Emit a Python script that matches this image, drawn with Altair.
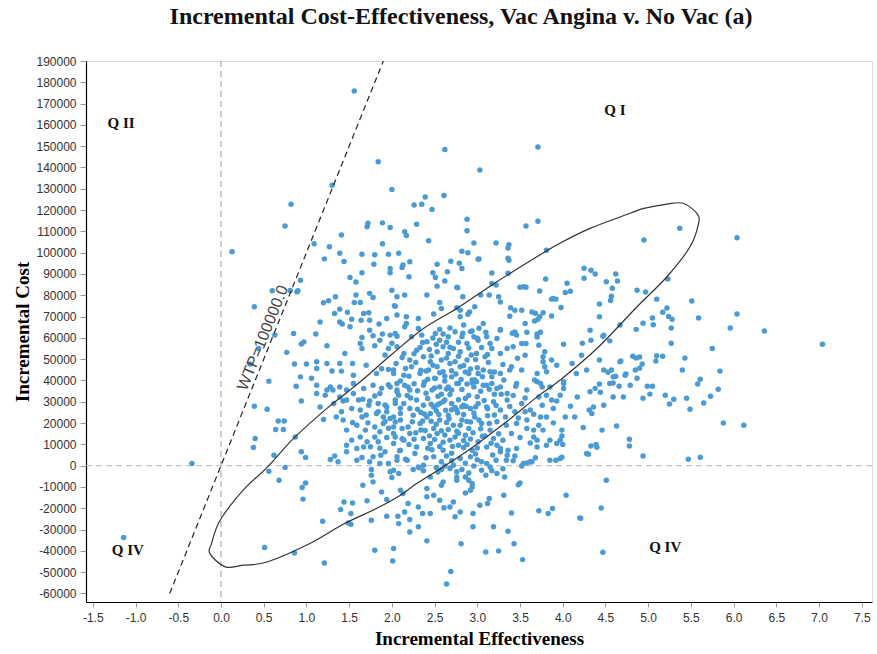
import altair as alt
import pandas as pd

# Bootstrap replicates: (incremental effectiveness, incremental cost)
reps_top = [
    (1.56, 175900), (2.62, 148500), (3.71, 149600), (1.84, 142700), (3.03, 138800),
    (1.30, 131700), (2.00, 129700), (0.82, 122800), (0.75, 112500), (0.13, 100400),
    (2.61, 126900), (2.39, 126200), (2.35, 122700), (2.26, 122400), (2.47, 120300),
    (2.29, 113400), (1.72, 113800), (1.71, 112200), (1.89, 114000), (1.98, 111800),
    (2.15, 109800), (2.17, 108100), (1.41, 108300), (1.09, 104200), (1.27, 102800),
    (1.89, 104200), (2.43, 105600), (2.88, 115700), (2.88, 110300), (3.57, 112500),
    (3.71, 114800), (2.96, 104500), (3.22, 104500), (3.37, 103700), (3.36, 102200),
    (3.81, 101200), (2.82, 100700), (2.89, 100000), (5.37, 111500), (6.04, 107000),
    (4.95, 106000), (1.39, 99700), (1.65, 99300), (1.80, 99000), (1.96, 99300),
    (2.08, 99700),
]

reps_high = [
    (1.21, 97100), (1.44, 95900), (1.79, 94600), (1.98, 92600), (1.98, 90600),
    (2.12, 93100), (2.21, 95700), (2.53, 94600), (2.13, 94200), (2.69, 96000),
    (2.79, 95000), (2.82, 92600), (3.01, 96900), (3.36, 97400), (3.37, 96500),
    (3.02, 97000), (1.65, 90600), (1.51, 88400), (1.58, 86200), (2.20, 88700),
    (2.48, 90600), (2.51, 88400), (2.53, 84300), (2.62, 86700), (2.65, 91000),
    (3.17, 90500), (3.36, 90300), (3.17, 85500), (3.22, 84800), (3.80, 87600),
    (4.25, 92700), (4.33, 91800), (4.38, 90000), (4.25, 88000), (4.51, 86400),
    (4.62, 90000), (4.64, 86700), (4.58, 83300), (4.57, 79600), (4.56, 77600),
    (4.43, 75900), (4.43, 69900), (4.67, 66000), (4.05, 85600), (4.03, 81300),
    (4.09, 81900), (3.54, 84000), (3.57, 83800), (3.73, 82000), (3.89, 78500),
    (3.87, 78200), (3.92, 78200), (3.98, 74300), (3.87, 70300), (0.93, 87100),
    (0.89, 81600), (0.60, 82100), (0.81, 82200), (0.90, 82100), (0.39, 74600),
    (1.20, 76500), (1.26, 77400), (1.34, 79300), (1.56, 76600), (1.63, 76600),
    (1.58, 80100), (1.74, 80900), (1.78, 79000), (2.00, 82400), (2.06, 79300),
    (2.03, 75100), (1.39, 73500), (1.33, 71500), (1.48, 72000), (1.67, 71500),
    (1.73, 71800), (1.16, 67500), (1.39, 67500), (1.42, 66500), (1.53, 68700),
    (1.64, 68300), (1.74, 68300), (1.85, 66500), (1.94, 69100), (1.51, 65200),
    (1.74, 63600), (1.65, 60200), (1.78, 61000), (1.89, 61800), (1.98, 61300),
    (2.06, 60800), (1.11, 61800), (0.85, 62100), (0.63, 61300), (2.15, 80100),
    (2.41, 80100), (2.77, 83500), (2.83, 79300), (3.04, 80100), (3.14, 80100),
    (3.25, 79300), (2.56, 76600), (2.58, 73800), (2.76, 74100), (2.91, 72200),
    (2.97, 74600), (3.27, 76900), (3.39, 74100), (3.44, 73000), (3.52, 73000),
    (3.64, 72200), (3.77, 71800), (2.49, 71200), (2.80, 69900), (2.04, 74900),
    (2.06, 70700), (2.17, 69900), (2.31, 69100), (3.07, 66800), (3.27, 64000),
    (3.44, 62800), (3.46, 61300), (3.67, 67900), (3.73, 69900), (3.56, 66800),
    (3.70, 61800), (3.68, 71600), (3.71, 68800), (3.58, 62700), (3.70, 60400),
    (3.74, 62700), (3.38, 70200), (3.27, 63600), (2.76, 83800), (2.94, 63200),
    (2.68, 64600), (2.83, 62200), (2.89, 71100), (2.80, 73000), (3.41, 62200),
    (3.50, 83800), (4.32, 63600), (4.48, 61300), (4.55, 58600), (4.47, 60800),
    (4.23, 57500), (4.33, 58900), (4.01, 57000), (4.87, 82400), (4.97, 81500),
    (5.23, 87600), (5.10, 78200), (5.51, 77300), (5.59, 69300), (5.22, 74000),
    (5.17, 72000), (5.24, 70100), (5.28, 68800), (5.27, 64600), (5.05, 69300),
    (5.06, 66200), (4.94, 66900), (4.86, 64000), (6.04, 71200), (5.96, 64600),
    (6.36, 63200), (5.75, 55000), (7.04, 57000), (5.27, 57500),
]

reps_mid = [
    (0.44, 55000), (0.34, 47700), (0.56, 39700), (0.77, 53200), (0.86, 47700),
    (0.88, 37300), (0.97, 58100), (0.94, 57100), (1.24, 56300), (1.45, 52700),
    (1.00, 47700), (1.12, 48800), (1.24, 48000), (1.39, 48000), (1.54, 48000),
    (1.70, 47200), (1.12, 45600), (1.30, 44500), (1.41, 44400), (1.55, 42500),
    (0.93, 41700), (1.06, 41000), (1.82, 43300), (2.02, 43300), (1.80, 56300),
    (1.96, 55000), (1.63, 57400), (1.65, 55000), (1.86, 58900), (4.48, 44900),
    (4.57, 44900), (4.67, 48800), (4.73, 42500), (4.59, 41700), (4.43, 49600),
    (4.22, 51900), (4.11, 48000), (3.87, 49600), (3.93, 47200), (3.79, 53500),
    (3.77, 51100), (3.77, 48800), (3.79, 46400), (3.81, 44100), (3.70, 43300),
    (3.67, 40200), (4.01, 39400), (4.16, 43300), (4.28, 44900), (3.40, 46400),
    (3.47, 50400), (3.56, 51900), (3.52, 44900), (3.15, 44100), (3.27, 43300),
    (3.01, 43300), (2.94, 40200), (3.17, 38600), (2.78, 38600), (3.57, 57400),
    (3.72, 56600), (4.68, 49100), (4.82, 51400), (4.86, 50500), (4.90, 51000),
    (4.93, 47700), (4.90, 45800), (4.85, 44900), (4.53, 43900), (4.62, 42000),
    (4.74, 43000), (4.87, 41100), (4.79, 37800), (4.66, 37300), (4.59, 38800),
    (4.99, 37300), (5.05, 37300), (5.02, 33600), (4.94, 31700), (4.59, 32200),
    (4.48, 28400), (4.44, 34500), (4.63, 18600), (4.46, 16700), (4.78, 12400),
    (4.78, 9200), (4.94, 4500), (5.17, 51400), (5.09, 49100), (5.10, 51600),
    (5.43, 50500), (5.40, 44900), (5.84, 44400), (5.82, 35900), (5.73, 32600),
    (5.65, 29400), (5.61, 40600), (5.58, 38300), (5.49, 26500), (5.45, 31700),
    (5.88, 20000), (5.47, 3000), (5.61, 4000), (5.30, 31200), (5.25, 29000),
    (5.20, 33100), (6.12, 19000),
]

# Dense centre of the cloud
reps_core = [
    (2.15, 65200), (2.17, 66800), (2.04, 62100), (2.23, 60500), (2.31, 64400),
    (2.35, 61300), (2.41, 58200), (2.51, 62100), (2.56, 58900), (2.60, 55800),
    (2.66, 60500), (2.74, 62900), (2.82, 60500), (2.88, 57400), (2.96, 60500),
    (3.01, 58900), (3.11, 60500), (3.15, 57400), (3.23, 59700), (2.06, 55800),
    (2.14, 52700), (2.21, 49600), (2.29, 54200), (2.37, 51100), (2.45, 48800),
    (2.53, 53500), (2.58, 49600), (2.66, 52700), (2.74, 48800), (2.80, 53500),
    (2.88, 49600), (2.99, 52700), (3.09, 51100), (3.17, 55000), (3.27, 52700),
    (3.35, 55000), (3.42, 55800), (3.52, 57400), (2.02, 44900), (2.14, 42500),
    (2.23, 46400), (2.33, 43300), (2.43, 44900), (2.51, 40900), (2.60, 44100),
    (2.70, 41700), (2.80, 46400), (2.90, 43300), (2.97, 40200), (3.07, 44900),
    (3.17, 41700), (3.31, 40200), (3.38, 44900), (3.46, 38600), (2.06, 38600),
    (2.19, 37000), (2.37, 37800), (2.56, 37000), (2.76, 38600), (2.96, 37000),
    (3.11, 37800), (3.23, 36200), (2.06, 34700), (2.15, 37800), (2.21, 35500),
    (2.47, 35500), (2.66, 37000), (2.88, 38300), (2.99, 39400), (3.07, 37800),
    (3.27, 37000), (3.35, 33900), (3.45, 37300), (3.58, 35500), (3.70, 39400),
    (3.76, 37000), (3.81, 33100), (3.87, 30800), (3.97, 33100), (4.01, 36200),
    (2.04, 30800), (2.14, 29200), (2.21, 26900), (2.29, 30800), (2.37, 28400),
    (2.49, 27600), (2.56, 29200), (2.62, 30800), (2.70, 29200), (2.76, 26100),
    (2.84, 28400), (2.92, 26900), (3.01, 29200), (3.11, 27600), (3.19, 30000),
    (3.27, 26100), (3.35, 30800), (3.44, 25300), (3.52, 29200), (3.62, 26100),
    (2.02, 22900), (2.10, 21400), (2.19, 18200), (2.25, 23700), (2.33, 19800),
    (2.41, 22900), (2.49, 17500), (2.56, 21400), (2.66, 23700), (2.72, 19000),
    (2.82, 21400), (2.90, 17500), (2.97, 22900), (3.05, 19800), (3.15, 16700),
    (3.23, 20600), (3.33, 22900), (3.40, 15100), (3.46, 19800), (3.58, 17500),
    (3.66, 13500), (3.74, 22900), (2.04, 13500), (2.14, 12000), (2.21, 15100),
    (2.29, 8800), (2.37, 12800), (2.45, 10400), (2.53, 15100), (2.60, 7300),
    (2.68, 12000), (2.78, 9600), (2.86, 14300), (2.94, 7300), (3.01, 11200),
    (3.11, 8800), (3.19, 12800), (3.27, 8100), (3.35, 4900), (2.06, 4200),
    (2.18, 2600), (2.27, 5700), (2.37, 200), (2.49, 4200), (2.58, 1800),
    (2.72, 200), (2.80, 3400), (2.92, 4200), (3.11, 1000), (3.54, 1000),
    (3.62, 1800), (2.10, 27000), (2.18, 33000), (2.26, 38500), (2.34, 25000),
    (2.42, 31500), (2.50, 41000), (2.58, 33500), (2.63, 26000), (2.70, 35500),
    (2.78, 31000), (2.84, 24000), (2.90, 33000), (2.98, 27500), (3.04, 35000),
    (3.12, 23500), (3.20, 33500), (2.12, 17500), (2.20, 10000), (2.28, 15500),
    (2.36, 21000), (2.44, 14000), (2.52, 19500), (2.60, 11000), (2.66, 17000),
    (2.74, 13500), (2.80, 19000), (2.88, 10000), (2.95, 15500), (3.02, 21500),
    (3.09, 14000), (3.16, 10500), (3.25, 15000), (2.40, 44500), (2.46, 51500),
    (2.53, 46500), (2.62, 42000), (2.68, 48000), (2.72, 55000), (2.86, 44000),
    (2.93, 52000), (3.00, 46000), (3.05, 55500), (3.13, 48500), (3.20, 44000),
    (3.30, 47500), (2.20, 42000), (2.28, 48500), (2.33, 55500), (2.48, 60000),
    (2.56, 64000), (2.64, 58000), (2.84, 66000), (2.92, 63000), (3.02, 64500),
    (1.92, 28500), (1.96, 38000), (1.88, 45500), (1.92, 52000), (2.00, 57500),
    (2.05, 48000), (2.09, 7000), (2.16, 3000), (2.32, -1000), (2.47, 7500),
    (2.54, -3000), (2.64, 4500), (2.84, 8500), (2.98, 5500), (3.10, -4500),
    (3.18, 5000), (2.45, 24500), (2.55, 24000), (2.67, 22000), (2.77, 24800),
    (2.87, 27800), (2.40, 34000), (2.50, 36500), (2.60, 30000), (2.64, 36000),
    (2.75, 43000), (2.81, 40500), (2.53, 28500), (2.39, 16500), (2.71, 9000),
    (2.92, 20500),
]

reps_core_b = [
    (2.22, 31800), (2.30, 35200), (2.38, 39300), (2.46, 28900), (2.54, 32600),
    (2.62, 39800), (2.68, 33400), (2.74, 27300), (2.82, 35800), (2.86, 31500),
    (2.94, 38800), (3.00, 32400), (3.08, 30600), (3.14, 35900), (2.24, 20600),
    (2.30, 26500), (2.38, 24300), (2.46, 20900), (2.52, 25800), (2.58, 16400),
    (2.64, 20300), (2.70, 26300), (2.76, 16200), (2.82, 27700), (2.88, 20800),
    (2.96, 24700), (3.04, 17300), (3.12, 26700), (3.20, 23800), (2.26, 12400),
    (2.34, 16800), (2.42, 8200), (2.50, 12300), (2.56, 9000), (2.62, 14400),
    (2.70, 5800), (2.78, 15200), (2.84, 11800), (2.92, 12500), (3.00, 8300),
    (3.06, 13800), (3.14, 19800), (2.34, 44800), (2.42, 40600), (2.48, 47200),
    (2.56, 43600), (2.64, 50500), (2.70, 44600), (2.78, 51400), (2.84, 47000),
    (2.92, 45400), (2.98, 49800), (3.06, 41800), (3.12, 52200), (2.10, 39800),
    (2.16, 45600), (2.12, 50800), (2.26, 52600), (2.36, 57800), (2.44, 54600),
    (2.52, 57000), (2.60, 61800), (2.68, 55600), (2.78, 57900), (2.90, 55200),
    (3.00, 59800), (3.10, 62700), (1.96, 45200), (1.88, 36400), (1.80, 32700),
    (1.70, 23800), (1.92, 20800), (1.86, 8200), (1.96, 17600), (2.04, 20500),
    (2.12, 12600), (3.22, 28300), (3.28, 33500), (3.34, 19000), (3.30, 11900),
    (3.38, 27800), (3.42, 33000), (3.48, 22400), (3.50, 13200), (3.56, 31800),
    (3.62, 10600), (3.66, 24200), (3.68, 3700), (3.44, 4600), (3.30, -1400),
    (2.40, 3700), (2.52, -800), (2.70, 2400), (2.86, 1200), (3.00, 2800),
]

reps_low = [
    (0.39, 27900), (0.54, 26500), (0.40, 12800), (0.38, 8500), (0.67, 21000),
    (0.74, 21000), (0.64, 17000), (0.73, 17000), (0.94, 30400), (0.87, 13500),
    (0.62, 4900), (0.94, 6500), (0.99, 3800), (-0.34, 1000), (1.28, 2900),
    (1.33, 4500), (1.37, 1800), (1.65, 3800), (1.74, 1800), (1.87, 4900),
    (1.92, 6500), (1.96, 1000), (1.67, 8800), (1.59, 8100), (1.53, 12000),
    (1.71, 11200), (1.80, 13500), (1.86, 15900), (1.94, 13200), (2.02, 15100),
    (1.54, 20300), (1.43, 21400), (1.65, 22900), (1.72, 20100), (1.82, 24500),
    (1.90, 22900), (1.98, 22200), (1.84, 29200), (1.94, 25300), (2.06, 35500),
    (1.61, 30800), (1.66, 31200), (1.74, 30400), (1.39, 32300), (1.43, 30400),
    (1.55, 38600), (1.31, 35500), (1.22, 33100), (1.12, 33900), (1.20, 21700),
    (1.28, 37000), (1.47, 35500), (1.12, 37800), (1.24, 35500), (1.39, 37000),
    (1.47, 30800), (1.55, 33900), (1.67, 36200), (1.78, 37800), (1.86, 33900),
    (1.98, 37000), (2.08, 33100), (1.16, 27600), (1.32, 29200), (1.41, 25300),
    (1.53, 26900), (1.63, 26100), (1.73, 28400), (1.84, 25300), (1.94, 27600),
    (2.04, 29200), (1.35, 22900), (1.47, 16700), (1.59, 19000), (1.69, 16700),
    (1.80, 18200), (1.90, 19800), (2.02, 18200), (2.10, 24500), (1.47, 9600),
    (1.63, 13500), (1.75, 8900), (1.84, 11200), (2.02, 10400), (2.10, 7300),
    (1.47, 6500), (1.59, 2600), (1.78, 4200), (1.86, 1000), (2.06, 2600),
    (3.05, 1800), (3.22, 2600), (3.34, 2600), (3.42, 2300), (3.58, 1300),
    (3.64, 1800), (3.92, 2600), (3.97, 3400), (3.70, 8800), (3.81, 9600),
    (3.85, 12000), (3.93, 10400), (3.97, 12000), (3.99, 13900), (3.46, 8100),
    (3.36, 7300), (3.27, 6500), (3.23, 9600), (4.28, 5700), (4.24, 17900),
    (4.14, 22900), (4.31, 26100), (4.34, 24500), (4.36, 27600), (4.71, 32300),
    (4.32, 34700), (4.38, 36300), (4.43, 38300), (4.55, 38600), (4.17, 32300),
    (4.09, 27900), (4.03, 22900), (3.89, 26900), (3.81, 22900), (3.89, 20100),
    (3.99, 16700), (3.85, 2600), (3.70, 12000), (3.77, 16700), (3.72, 19000),
    (3.66, 16700), (3.58, 21400), (3.56, 25300), (3.76, 28400), (3.72, 32300),
    (3.93, 30400), (3.85, 37000), (4.01, 38600), (3.74, 38600), (4.30, 5400),
    (4.33, 9200), (4.39, 10000), (4.40, 8600), (3.99, 4000), (4.00, 10000),
]

reps_neg = [
    (0.56, -2600), (0.68, -6800), (0.75, -800), (0.95, -10200), (0.99, -8100),
    (0.96, -15700), (0.51, -38400), (0.86, -41000), (1.21, -45700), (1.19, -26100),
    (1.44, -17000), (1.54, -17500), (1.40, -20600), (1.52, -22500), (1.49, -26900),
    (1.52, -27500), (1.76, -25600), (1.80, -39700), (2.01, -44700), (2.02, -38900),
    (1.94, -23700), (2.07, -23700), (1.71, -16500), (1.66, -9200), (1.78, -7600),
    (1.88, -12300), (1.94, -15900), (1.76, -1800), (1.76, -4500), (1.98, -2900),
    (2.00, -5500), (2.64, -55500), (2.69, -49700), (2.41, -35300), (2.81, -36600),
    (3.10, -40500), (3.25, -40000), (3.53, -44100), (3.43, -36600), (3.36, -30800),
    (3.19, -28700), (2.95, -28700), (4.20, -24500), (3.72, -21200), (3.83, -22500),
    (3.88, -20100), (3.40, -22200), (3.50, -8100), (3.48, -9000), (3.31, -13900),
    (3.14, -15400), (3.12, -17800), (3.03, -18600), (2.95, -22500), (2.80, -21700),
    (2.74, -24000), (2.68, -19400), (2.61, -19800), (2.72, -17000), (2.56, -16200),
    (2.49, -13900), (2.41, -14600), (2.41, -10700), (2.45, -22500), (2.36, -22500),
    (2.31, -19400), (2.19, -17800), (2.15, -21700), (2.21, -25300), (2.08, -27200),
    (2.21, -31100), (2.31, -28700), (2.10, -11500), (2.13, -13100), (2.58, -9200),
    (2.60, -7600), (2.76, -6800), (2.76, -5300), (2.86, -5300), (2.90, -6800),
    (2.94, -10000), (2.92, -11500), (2.86, -12800), (2.94, -8400), (2.76, -2900),
    (2.82, -1800), (2.90, -3400), (2.68, -1300), (2.62, -200), (2.58, -1800),
    (2.45, -5300), (2.37, -2400), (2.31, -600), (2.25, -1800), (2.08, -3700),
    (2.02, -2100), (3.05, -2100), (3.17, -2400), (3.23, -3700), (3.32, -5300),
    (3.15, -600), (2.96, -200), (3.52, -200), (4.04, -13900), (4.45, -19900),
    (4.21, -24700), (4.47, -40600), (4.51, -6800), (-1.14, -33700),
]

# 95% confidence ellipse outline, traced in order
ellipse_eff = [
    -0.13, 0.05, 0.26, 0.54, 1.04, 1.43, 1.82, 2.10, 2.29, 2.60, 2.95, 3.34,
    3.70, 3.97, 4.40, 4.87, 5.22, 5.49, 5.59, 5.57, 5.41, 5.22, 4.95, 4.79,
    4.32, 3.93, 3.54, 3.15, 2.76, 2.37, 2.00, 1.63, 1.24, 0.85, 0.54, 0.26,
    -0.01, -0.11,
]
ellipse_cost = [
    -41300, -47500, -46700, -45200, -36500, -27500, -20100, -13900, -8400, -600,
    8800, 20600, 32300, 40200, 55000, 74600, 88700, 102800, 113800, 118500,
    123200, 122800, 120800, 118500, 111400, 103600, 94200, 84300, 73800, 64400,
    52300, 39400, 26900, 12800, -800, -11500, -25600, -36500,
]

# Willingness-to-pay threshold line
wtp = 100000
wtp_eff = [-0.6, 1.9]

quad_labels = ["Q I", "Q II", "Q IV", "Q IV"]
quad_eff = [4.61, -1.17, -1.09, 5.2]
quad_cost = [167000, 161000, -39700, -38300]

x_ticks = [-1.5 + 0.5 * i for i in range(19)]
y_ticks = list(range(-60000, 190001, 10000))

all_reps = (reps_top + reps_high + reps_mid + reps_core + reps_core_b
            + reps_low + reps_neg)
points = pd.DataFrame(all_reps, columns=["eff", "cost"])
ellipse = pd.DataFrame({"eff": ellipse_eff, "cost": ellipse_cost,
                        "i": list(range(len(ellipse_eff)))})
wtp_df = pd.DataFrame({"eff": wtp_eff, "cost": [wtp * e for e in wtp_eff]})
quads = pd.DataFrame({"label": quad_labels, "eff": quad_eff, "cost": quad_cost})
wtp_lab = pd.DataFrame({"label": [f"WTP={wtp:.1f}"], "eff": [0.49], "cost": [60000]})

minus_fix = "replace(datum.label, '\u2212', '-')"

x_scale = alt.Scale(domain=[-1.58, 7.62], nice=False, zero=False)
y_scale = alt.Scale(domain=[-64000, 190000], nice=False, zero=False)

x_axis = alt.Axis(
    title="Incremental Effectiveness", values=x_ticks, format=".1f",
    labelExpr=minus_fix, labelFont="Liberation Sans", labelFontSize=12,
    labelColor="#333", labelPadding=5, labelFlush=False, labelOverlap=False,
    tickColor="#999", tickSize=5, domainColor="#000", domainWidth=1.2,
    grid=False, titleFont="Liberation Serif", titleFontSize=19,
    titleFontWeight="bold", titleColor="#000", titlePadding=6,
)
y_axis = alt.Axis(
    title="Incremental Cost", values=y_ticks, format="d",
    labelExpr=minus_fix, labelFont="Liberation Sans", labelFontSize=12,
    labelColor="#333", labelPadding=4, labelFlush=False, labelOverlap=False,
    tickColor="#999", tickSize=6, domainColor="#000", domainWidth=1.2,
    grid=False, titleFont="Liberation Serif", titleFontSize=19,
    titleFontWeight="bold", titleColor="#000", titlePadding=3,
)

# Every layer shares the same encodings so the axes merge cleanly
X = alt.X("eff:Q", scale=x_scale, axis=x_axis)
Y = alt.Y("cost:Q", scale=y_scale, axis=y_axis)

dots = alt.Chart(points).mark_circle(size=30, color="#4b9bd2", opacity=1).encode(
    x=X, y=Y
)

zero_x = alt.Chart(pd.DataFrame({"eff": [0]})).mark_rule(
    color="#999", strokeDash=[6, 4], strokeWidth=1
).encode(x=X)

zero_y = alt.Chart(pd.DataFrame({"cost": [0]})).mark_rule(
    color="#bbb", strokeDash=[6, 4], strokeWidth=1
).encode(y=Y)

wtp_line = alt.Chart(wtp_df).mark_line(
    color="#222", strokeDash=[6, 4], strokeWidth=1.2
).encode(x=X, y=Y)

wtp_text = alt.Chart(wtp_lab).mark_text(
    angle=292, font="Liberation Sans", fontSize=16, color="#444",
    align="center", baseline="middle"
).encode(x=X, y=Y, text="label:N")

ellipse_line = alt.Chart(ellipse).mark_line(
    color="#333", strokeWidth=1.2, interpolate="cardinal-closed"
).encode(x=X, y=Y, order="i:Q")

quad_text = alt.Chart(quads).mark_text(
    font="Liberation Serif", fontSize=15, fontWeight="bold", color="#111",
    align="center", baseline="middle"
).encode(x=X, y=Y, text="label:N")

chart = alt.layer(
    zero_x, zero_y, dots, ellipse_line, wtp_line, wtp_text, quad_text
).properties(
    width=786, height=541,
    title=alt.TitleParams(
        "Incremental Cost-Effectiveness, Vac Angina v. No Vac (a)",
        font="Liberation Serif", fontSize=24, fontWeight="bold", color="#111",
        anchor="middle", dx=-18, offset=26,
    ),
    autosize=alt.AutoSizeParams(type="none"),
    padding={"left": 86, "top": 61, "right": 5, "bottom": 52},
).configure_view(stroke=None).configure(background="white")

chart.save("out.html", embed_options={"renderer": "svg", "actions": False})
